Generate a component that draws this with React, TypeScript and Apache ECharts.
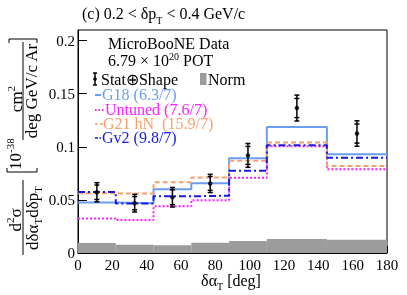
import React, { useEffect, useRef } from "react";
import * as echarts from "echarts";

const binEdges = [0, 22, 44, 66, 88, 110, 145, 180];
const binCenters = [11, 33, 55, 77, 99, 127.5, 162.5];
const dataValues = [0.0572, 0.0469, 0.0525, 0.0655, 0.0919, 0.1365, 0.1125];
const totalErr = [0.009, 0.0083, 0.0092, 0.0086, 0.0112, 0.0122, 0.012];
const statErr = [0.0068, 0.0062, 0.007, 0.0065, 0.0084, 0.009, 0.009];
const normValues = [0.0094, 0.0078, 0.0072, 0.0096, 0.0114, 0.0131, 0.0125];
const g18Values = [0.0475, 0.0469, 0.06, 0.0656, 0.0893, 0.1187, 0.0931];
const untunedValues = [0.0325, 0.031, 0.044, 0.0497, 0.0709, 0.1006, 0.0788];
const g21Values = [0.0562, 0.0559, 0.0666, 0.0712, 0.0868, 0.104, 0.0819];
const gv2Values = [0.0575, 0.0465, 0.0534, 0.054, 0.0775, 0.1015, 0.0897];

const FONT = "Liberation Serif, Times New Roman, serif";
const C_G18 = "#6a9ef0";
const C_UNT = "#ff20ff";
const C_G21 = "#f7a070";
const C_GV2 = "#1a1ae8";
const C_NORM = "#9c9c9c";

function stepData(vals: number[]) {
  const d: number[][] = vals.map((v, i) => [binEdges[i], v]);
  d.push([binEdges[binEdges.length - 1], vals[vals.length - 1]]);
  return d;
}

function richStyle(size: number, lh: number, color = "#000") {
  return {
    n: { fontFamily: FONT, fontSize: size, lineHeight: lh, fill: color, color },
    sub: { fontFamily: FONT, fontSize: Math.round(size * 0.65), lineHeight: 10, verticalAlign: "bottom", fill: color, color },
    sup: { fontFamily: FONT, fontSize: Math.round(size * 0.65), lineHeight: 10, verticalAlign: "top", fill: color, color },
  };
}

export default function App() {
  const ref = useRef<HTMLDivElement>(null);
  useEffect(() => {
    if (!ref.current) return;
    const chart = echarts.init(ref.current, undefined, { renderer: "svg" });

    const lineSeries = (name: string, vals: number[], color: string, type: any) => ({
      name,
      type: "line",
      step: "end",
      data: stepData(vals),
      symbol: "none",
      lineStyle: { color, width: 2, type },
      z: 3,
    });

    const legendText = (x: number, y: number, text: string, color: string) => ({
      type: "text",
      x,
      y,
      style: {
        text,
        fill: color,
        font: `16px ${FONT}`,
        lineHeight: 13,
        align: "left",
        verticalAlign: "middle",
      },
    });

    const option: any = {
      animation: false,
      grid: { left: 78, right: 20, top: 30, bottom: 42, show: true, borderColor: "#000", borderWidth: 1, backgroundColor: "transparent" },
      xAxis: {
        type: "value",
        min: 0,
        max: 180,
        interval: 20,
        axisLine: { lineStyle: { color: "#000", width: 1 } },
        axisTick: { inside: true, length: 7, lineStyle: { color: "#000" } },
        axisLabel: { color: "#000", fontFamily: FONT, fontSize: 15, margin: 4 },
        splitLine: { show: false },
      },
      yAxis: {
        type: "value",
        min: 0,
        max: 0.21,
        interval: 0.05,
        axisLine: { show: true, lineStyle: { color: "#000", width: 1 } },
        axisTick: { inside: true, length: 9, lineStyle: { color: "#000" } },
        axisLabel: { color: "#000", fontFamily: FONT, fontSize: 15, margin: 3, showMaxLabel: false },
        splitLine: { show: false },
      },
      series: [
        {
          name: "Norm",
          type: "custom",
          data: normValues.map((v, i) => [binEdges[i], binEdges[i + 1], v]),
          encode: { x: [0, 1], y: 2 },
          z: 1,
          renderItem: (params: any, api: any) => {
            const p0 = api.coord([api.value(0), api.value(2)]);
            const p1 = api.coord([api.value(1), 0]);
            return {
              type: "rect",
              shape: { x: p0[0], y: p0[1], width: p1[0] - p0[0], height: p1[1] - p0[1] },
              style: { fill: C_NORM },
            };
          },
        },
        lineSeries("G18", g18Values, C_G18, "solid"),
        lineSeries("Untuned", untunedValues, C_UNT, [2, 2]),
        lineSeries("G21 hN", g21Values, C_G21, [5, 3]),
        lineSeries("Gv2", gv2Values, C_GV2, [7, 3, 2, 3]),
        {
          name: "DataErr",
          type: "custom",
          data: binCenters.map((c, i) => [c, dataValues[i], totalErr[i], statErr[i]]),
          encode: { x: 0, y: 1 },
          z: 5,
          renderItem: (params: any, api: any) => {
            const x = api.value(0), y = api.value(1), te = api.value(2), se = api.value(3);
            const t = api.coord([x, y + te]);
            const b = api.coord([x, y - te]);
            const st = api.coord([x, y + se]);
            const sb = api.coord([x, y - se]);
            const w = 2.5;
            const s = { stroke: "#000", lineWidth: 1.5 };
            const cap = (p: number[]) => ({ type: "line", shape: { x1: p[0] - w, y1: p[1], x2: p[0] + w, y2: p[1] }, style: s });
            return {
              type: "group",
              children: [
                { type: "line", shape: { x1: t[0], y1: t[1], x2: b[0], y2: b[1] }, style: s },
                cap(t), cap(b), cap(st), cap(sb),
              ],
            };
          },
        },
        {
          name: "Data",
          type: "scatter",
          data: binCenters.map((c, i) => [c, dataValues[i]]),
          symbol: "circle",
          symbolSize: 4.5,
          itemStyle: { color: "#000" },
          z: 6,
        },
      ],
      graphic: [
        {
          type: "text",
          x: 82,
          y: 13,
          style: {
            text: "{n|(c) 0.2 < δp}{sub|T}{n| < 0.4 GeV/c}",
            rich: richStyle(16, 24),
            align: "left",
            verticalAlign: "middle",
          },
        },
        {
          type: "text",
          x: 231,
          y: 280,
          style: {
            text: "{n|δα}{sub|T}{n| [deg]}",
            rich: richStyle(16, 22),
            align: "center",
            verticalAlign: "middle",
          },
        },
        {
          type: "group",
          x: 0,
          y: 260,
          rotation: Math.PI / 2,
          children: [
            { type: "text", x: 40, y: 15, style: { text: "{n|d}{sup|2}{n|σ}", rich: richStyle(17, 22), align: "center", verticalAlign: "middle" } },
            { type: "line", shape: { x1: 5, y1: 23, x2: 80, y2: 23 }, style: { stroke: "#000", lineWidth: 1 } },
            { type: "text", x: 42, y: 32, style: { text: "{n|dδα}{sub|T}{n|dδp}{sub|T}", rich: richStyle(17, 22), align: "center", verticalAlign: "middle" } },
            { type: "polyline", shape: { points: [[92, 7], [88, 7], [88, 37], [92, 37]] }, style: { stroke: "#000", fill: null, lineWidth: 1 } },
            { type: "text", x: 90, y: 15, style: { text: "{n|10}{sup|-38}", rich: richStyle(17, 22), align: "left", verticalAlign: "middle" } },
            { type: "text", x: 161, y: 16, style: { text: "{n|cm}{sup|2}", rich: richStyle(17, 22), align: "center", verticalAlign: "middle" } },
            { type: "line", shape: { x1: 120, y1: 23, x2: 218, y2: 23 }, style: { stroke: "#000", lineWidth: 1 } },
            { type: "text", x: 169, y: 31, style: { text: "deg GeV/c Ar", font: `17px ${FONT}`, fill: "#000", align: "center", verticalAlign: "middle" } },
            { type: "polyline", shape: { points: [[217, 9], [221, 9], [221, 37], [217, 37]] }, style: { stroke: "#000", fill: null, lineWidth: 1 } },
          ],
        },
        legendText(108, 43, "MicroBooNE Data", "#000"),
        {
          type: "text",
          x: 108,
          y: 60,
          style: { text: "{n|6.79 × 10}{sup|20}{n| POT}", rich: richStyle(16, 18), align: "left", verticalAlign: "middle" },
        },
        { type: "line", shape: { x1: 95, y1: 73, x2: 95, y2: 85 }, style: { stroke: "#000", lineWidth: 1.5 } },
        { type: "line", shape: { x1: 93, y1: 73, x2: 97, y2: 73 }, style: { stroke: "#000", lineWidth: 1.5 } },
        { type: "line", shape: { x1: 93, y1: 85, x2: 97, y2: 85 }, style: { stroke: "#000", lineWidth: 1.5 } },
        { type: "circle", shape: { cx: 95, cy: 79, r: 1.8 }, style: { fill: "#000" } },
        legendText(101, 79, "Stat⊕Shape", "#000"),
        { type: "rect", shape: { x: 200, y: 73, width: 6.5, height: 12 }, style: { fill: C_NORM } },
        legendText(208, 79, "Norm", "#000"),
        { type: "line", shape: { x1: 95, y1: 95, x2: 101, y2: 95 }, style: { stroke: C_G18, lineWidth: 2 } },
        legendText(102, 94, "G18 (6.3/7)", C_G18),
        { type: "line", shape: { x1: 95, y1: 110, x2: 104, y2: 110 }, style: { stroke: C_UNT, lineWidth: 2, lineDash: [1.5, 2] } },
        legendText(105, 109, "Untuned (7.6/7)", C_UNT),
        { type: "line", shape: { x1: 95, y1: 124, x2: 103, y2: 124 }, style: { stroke: C_G21, lineWidth: 1.5, lineDash: [3, 2] } },
        legendText(103, 123, "G21 hN  (15.9/7)", C_G21),
        { type: "line", shape: { x1: 95, y1: 138, x2: 102, y2: 138 }, style: { stroke: C_GV2, lineWidth: 1.5, lineDash: [3, 1.5, 1.5, 1.5] } },
        legendText(102, 137, "Gv2 (9.8/7)", C_GV2),
      ],
    };
    chart.setOption(option);
    return () => chart.dispose();
  }, []);
  return <div ref={ref} style={{ position: "fixed", left: 0, top: 0, width: 407, height: 295 }} />;
}
